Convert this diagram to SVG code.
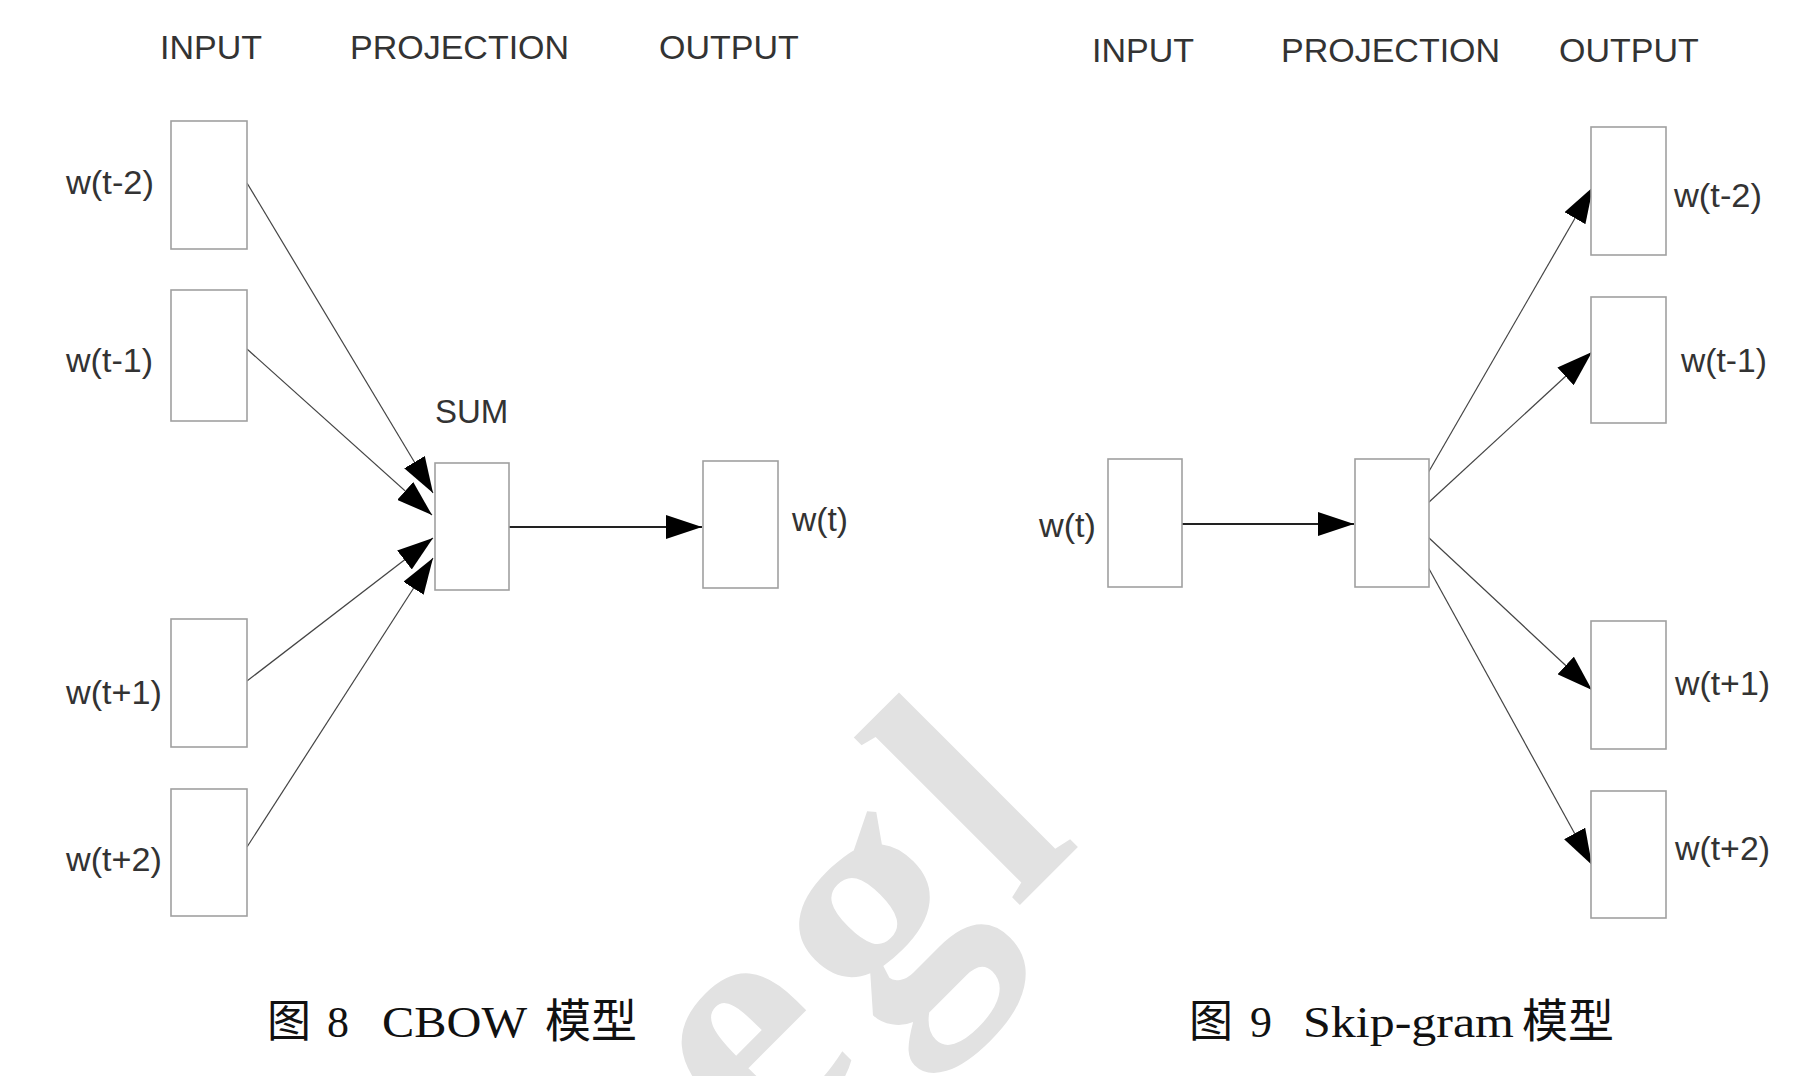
<svg xmlns="http://www.w3.org/2000/svg" width="1820" height="1076" viewBox="0 0 1820 1076">
<defs>
<style>
.box{fill:#fff;stroke:#a0a0a0;stroke-width:1.6}
.hdr{font-family:"Liberation Sans",Arial,sans-serif;font-size:34px;fill:#333}
.lbl{font-family:"Liberation Sans",Arial,sans-serif;font-size:33px;fill:#333}
.cap{font-family:"Liberation Serif","Noto Sans CJK SC",serif;font-size:44px;fill:#111}
.conn{stroke:#444;stroke-width:1.2;fill:none}
.hconn{stroke:#222;stroke-width:2;fill:none}
.wm{font-family:"Liberation Serif",serif;font-weight:bold;font-size:340px;letter-spacing:20px;fill:#e2e2e2}
</style>
<marker id="ah" viewBox="0 0 36 24" refX="36" refY="12" markerWidth="36" markerHeight="24" markerUnits="userSpaceOnUse" orient="auto">
<path d="M0,0 L36,12 L0,24 z" fill="#000"/>
</marker>
</defs>
<rect width="1820" height="1076" fill="#fff"/>
<text class="wm" transform="translate(760,1165) rotate(-45)">egl</text>

<g id="cbow-headers">
<text class="hdr" x="160" y="59">INPUT</text>
<text class="hdr" x="350" y="59">PROJECTION</text>
<text class="hdr" x="659" y="59">OUTPUT</text>
</g>
<g id="sg-headers">
<text class="hdr" x="1092" y="62">INPUT</text>
<text class="hdr" x="1281" y="62">PROJECTION</text>
<text class="hdr" x="1559" y="62">OUTPUT</text>
</g>

<g id="connectors">
<line class="conn" x1="247" y1="183" x2="433" y2="493" marker-end="url(#ah)"/>
<line class="conn" x1="247" y1="349" x2="432" y2="515" marker-end="url(#ah)"/>
<line class="conn" x1="247" y1="681" x2="433" y2="538" marker-end="url(#ah)"/>
<line class="conn" x1="247" y1="847" x2="433" y2="558" marker-end="url(#ah)"/>
<line class="hconn" x1="508" y1="527" x2="702" y2="527" marker-end="url(#ah)"/>
<line class="hconn" x1="1178" y1="524" x2="1354" y2="524" marker-end="url(#ah)"/>
<line class="conn" x1="1428" y1="473" x2="1593" y2="187" marker-end="url(#ah)"/>
<line class="conn" x1="1428" y1="503" x2="1592" y2="352" marker-end="url(#ah)"/>
<line class="conn" x1="1428" y1="537" x2="1592" y2="690" marker-end="url(#ah)"/>
<line class="conn" x1="1428" y1="567" x2="1592" y2="865" marker-end="url(#ah)"/>
</g>

<g id="cbow-in-t-2"><rect class="box" x="171" y="121" width="76" height="128"/><text class="lbl" x="66" y="194" textLength="88" lengthAdjust="spacingAndGlyphs">w(t-2)</text></g>
<g id="cbow-in-t-1"><rect class="box" x="171" y="290" width="76" height="131"/><text class="lbl" x="66" y="372" textLength="87" lengthAdjust="spacingAndGlyphs">w(t-1)</text></g>
<g id="cbow-in-t+1"><rect class="box" x="171" y="619" width="76" height="128"/><text class="lbl" x="66" y="704" textLength="96" lengthAdjust="spacingAndGlyphs">w(t+1)</text></g>
<g id="cbow-in-t+2"><rect class="box" x="171" y="789" width="76" height="127"/><text class="lbl" x="66" y="871" textLength="96" lengthAdjust="spacingAndGlyphs">w(t+2)</text></g>
<g id="cbow-sum"><rect class="box" x="435" y="463" width="74" height="127"/><text class="lbl" x="435" y="423">SUM</text></g>
<g id="cbow-out"><rect class="box" x="703" y="461" width="75" height="127"/><text class="lbl" x="792" y="531" textLength="56" lengthAdjust="spacingAndGlyphs">w(t)</text></g>

<g id="sg-in"><rect class="box" x="1108" y="459" width="74" height="128"/><text class="lbl" x="1039" y="537" textLength="57" lengthAdjust="spacingAndGlyphs">w(t)</text></g>
<g id="sg-proj"><rect class="box" x="1355" y="459" width="74" height="128"/></g>
<g id="sg-out-t-2"><rect class="box" x="1591" y="127" width="75" height="128"/><text class="lbl" x="1674" y="207" textLength="88" lengthAdjust="spacingAndGlyphs">w(t-2)</text></g>
<g id="sg-out-t-1"><rect class="box" x="1591" y="297" width="75" height="126"/><text class="lbl" x="1681" y="372" textLength="86" lengthAdjust="spacingAndGlyphs">w(t-1)</text></g>
<g id="sg-out-t+1"><rect class="box" x="1591" y="621" width="75" height="128"/><text class="lbl" x="1675" y="695" textLength="95" lengthAdjust="spacingAndGlyphs">w(t+1)</text></g>
<g id="sg-out-t+2"><rect class="box" x="1591" y="791" width="75" height="127"/><text class="lbl" x="1675" y="860" textLength="95" lengthAdjust="spacingAndGlyphs">w(t+2)</text></g>

<g id="captions">
<text class="cap" y="1037"><tspan x="267">图</tspan><tspan x="327">8</tspan><tspan x="382" textLength="145" lengthAdjust="spacingAndGlyphs">CBOW</tspan><tspan x="545" font-size="46">模型</tspan></text>
<text class="cap" y="1037"><tspan x="1189">图</tspan><tspan x="1250">9</tspan><tspan x="1303" textLength="211" lengthAdjust="spacingAndGlyphs">Skip-gram</tspan><tspan x="1522" font-size="46">模型</tspan></text>
</g>
</svg>
